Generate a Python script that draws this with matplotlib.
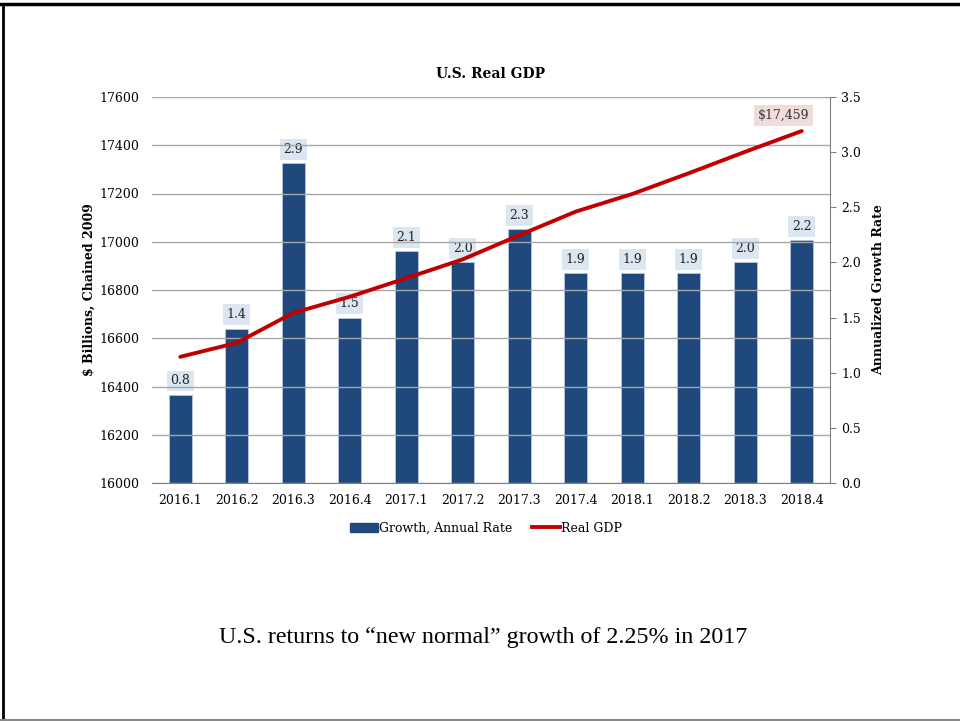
import matplotlib
matplotlib.use("Agg")
import matplotlib.pyplot as plt
import numpy as np
from matplotlib.lines import Line2D

plt.rcParams['font.family'] = ['DejaVu Serif']

quarters = ['2016.1', '2016.2', '2016.3', '2016.4', '2017.1', '2017.2',
            '2017.3', '2017.4', '2018.1', '2018.2', '2018.3', '2018.4']
growth = [0.8, 1.4, 2.9, 1.5, 2.1, 2.0, 2.3, 1.9, 1.9, 1.9, 2.0, 2.2]
real_gdp = [16523, 16581, 16705, 16772, 16849, 16927,
            17027, 17125, 17198, 17284, 17373, 17459]

bar_color = '#1F497D'
line_color = '#C00000'
grid_color = '#A6A6A6'

fig = plt.figure(figsize=(9.6, 7.21), dpi=100)
ax = fig.add_axes([152 / 960, 1 - 483 / 721, (830 - 152) / 960, (483 - 97) / 721])
ax2 = ax.twinx()

x = np.arange(len(quarters))

# bars on the right-hand axis, GDP line on the left
ax2.bar(x, growth, width=0.4, color=bar_color, edgecolor='#B8C7DA', linewidth=0.6, zorder=2)
for xi, g in zip(x, growth):
    ax2.annotate(f'{g:.1f}', (xi, g), xytext=(0, 10), textcoords='offset points',
                 ha='center', va='center', fontsize=9, color='#222222',
                 bbox=dict(boxstyle='square,pad=0.3', fc='#DCE6F2', ec='none'))
ax2.set_ylim(0, 3.5)
ax2.set_yticks(np.arange(0, 3.51, 0.5))
ax2.set_yticklabels([f'{v:.1f}' for v in np.arange(0, 3.51, 0.5)], fontsize=9)
ax2.set_ylabel('Annualized Growth Rate', fontsize=9, fontweight='bold', labelpad=8)

ax.plot(x, real_gdp, color=line_color, linewidth=2.8, solid_capstyle='round', zorder=5)
ax.annotate(f'${real_gdp[-1]:,}', (x[-1], real_gdp[-1]), xytext=(-13, 11),
            textcoords='offset points', ha='center', va='center', fontsize=9,
            color='#333333', bbox=dict(boxstyle='square,pad=0.3', fc='#F2DCDB', ec='none'))
ax.set_ylim(16000, 17600)
ax.set_yticks(np.arange(16000, 17601, 200))
ax.tick_params(axis='y', length=0, labelsize=9, pad=9)
ax.set_ylabel('$ Billions, Chained 2009', fontsize=9, fontweight='bold', labelpad=3)
ax.yaxis.grid(True, color=grid_color, linewidth=1)
ax.set_axisbelow(True)

ax.set_xlim(-0.5, len(quarters) - 0.5)
ax.set_xticks(x)
ax.set_xticklabels(quarters, fontsize=9)
ax.tick_params(axis='x', length=0, pad=8)

ax.set_zorder(ax2.get_zorder() + 1)
ax.patch.set_visible(False)

for a in (ax, ax2):
    for side in ('top', 'left'):
        a.spines[side].set_visible(False)
    a.spines['right'].set_visible(a is ax2)
    a.spines['bottom'].set_color('#808080')
ax2.spines['bottom'].set_visible(False)
ax2.spines['right'].set_color('#808080')
ax2.tick_params(axis='y', direction='out', length=4, color='#808080', pad=4)

ax.set_title('U.S. Real GDP', fontsize=10, fontweight='bold', pad=14)

handles = [plt.Rectangle((0, 0), 1, 1, color=bar_color),
           Line2D([], [], color=line_color, linewidth=2.8)]
fig.legend(handles, ['Growth, Annual Rate', 'Real GDP'], loc='center',
           bbox_to_anchor=(486 / 960, 1 - 528 / 721), ncol=2, frameon=False,
           fontsize=9, handlelength=2.2, handletextpad=0.1, columnspacing=1.6)

fig.text(483 / 960, 1 - 637 / 721, 'U.S. returns to \u201cnew normal\u201d growth of 2.25% in 2017',
         ha='center', va='center', fontsize=17.3, family='Liberation Serif')

# slide frame
fig.add_artist(Line2D([0, 1], [1 - 4 / 721] * 2, color='black', linewidth=2.5))
fig.add_artist(Line2D([3 / 960] * 2, [0, 1 - 4 / 721], color='black', linewidth=2))
fig.add_artist(Line2D([0, 1], [1 / 721] * 2, color='#888888', linewidth=1.5))

fig.savefig('out.png', dpi=100)
